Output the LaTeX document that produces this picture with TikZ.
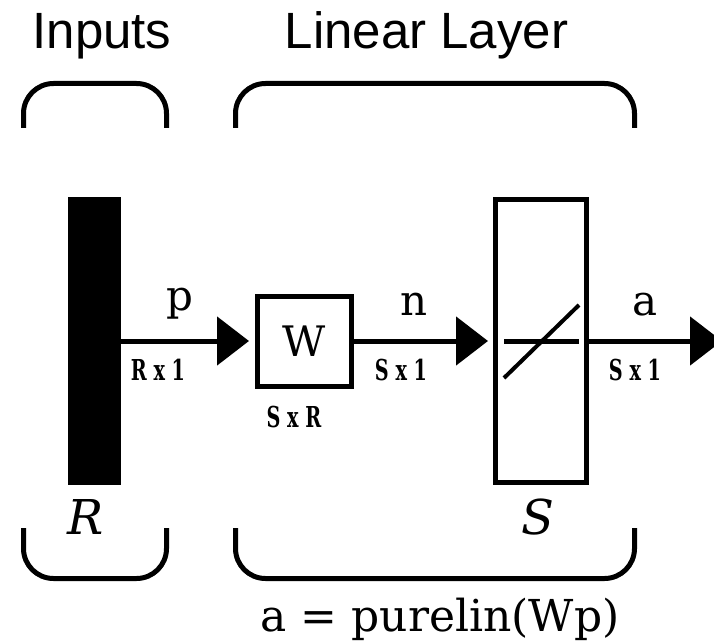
\documentclass[tikz,border=0pt]{standalone}
\usepackage{fontspec}
\setmainfont{DejaVu Serif}
\setsansfont{Liberation Sans}
\usepackage{tikz}
\usetikzlibrary{positioning,arrows.meta,calc}
\newcommand{\sizetext}[1]{\scalebox{0.8}[1.2]{#1}}

\begin{document}
\begin{tikzpicture}[
    x=1pt, y=-1pt,
    inbar/.style={
      fill=black,
      inner sep=0pt,
      outer sep=0pt,
      minimum width=53pt,
      minimum height=288pt
    },
    layerbox/.style={
      draw=black,
      fill=white,
      line width=5pt,
      inner sep=0pt
    },
    sigarrow/.style={
      -{Triangle[length=32pt,width=48pt]},
      line width=5pt
    },
    layerbrace/.style={
      line width=5pt,
      rounded corners=30pt
    },
    siglabel/.style={
      anchor=base,
      inner sep=0pt,
      font=\fontsize{42}{48}\selectfont
    },
    sizelabel/.style={
      anchor=base,
      inner sep=0pt,
      font=\fontsize{24}{28}\selectfont\bfseries
    },
    dimlabel/.style={
      anchor=base,
      inner sep=0pt,
      font=\fontsize{48}{56}\selectfont\itshape
    },
    titlelabel/.style={
      anchor=base,
      inner sep=0pt,
      font=\fontsize{51}{60}\selectfont\sffamily
    }
  ]
  \useasboundingbox (0,0) rectangle (714,644);

  % titles and brackets
  \node[titlelabel] (intitle) at (102,49) {Inputs};
  \node[titlelabel] (lintitle) at (426.5,49) {Linear Layer};
  \foreach \xa/\xb in {23.5/166.5, 235.5/634.5} {
    \draw[layerbrace] (\xa,128) -- (\xa,83.5) -- (\xb,83.5) -- (\xb,128);
    \draw[layerbrace] (\xa,528) -- (\xa,578.5) -- (\xb,578.5) -- (\xb,528);
  }

  % blocks
  \node[inbar] (pbar) at (94.5,341) {};
  \node[layerbox, minimum width=94pt, minimum height=90pt,
        font=\fontsize{42}{48}\selectfont] (wbox) at (304.5,341) {W};
  \node[layerbox, minimum width=91pt, minimum height=283pt] (fbox) at (541,341) {};
  \coordinate (aout) at (722,341);

  % linear transfer symbol
  \draw[line width=5pt] ([xshift=-37pt]fbox.center) -- ([xshift=38pt]fbox.center);
  \draw[line width=4pt] ([shift={(-37,37)}]fbox.center) -- ([shift={(38,-36)}]fbox.center);

  % signals
  \draw[sigarrow, shorten >=6pt] (pbar) -- (wbox);
  \draw[sigarrow, shorten >=5pt] (wbox) -- (fbox);
  \draw[sigarrow] (fbox) -- (aout);

  \node[siglabel] (plab) at (180,310) {p};
  \node[siglabel] (nlab) at (414,315) {n};
  \node[siglabel] (alab) at (645,315) {a};
  \node[sizelabel] (pdim) at (158,380) {\sizetext{R x 1}};
  \node[sizelabel] (wdim) at (294,427) {\sizetext{S x R}};
  \node[sizelabel] (ndim) at (401,380) {\sizetext{S x 1}};
  \node[sizelabel] (adim) at (635,380) {\sizetext{S x 1}};
  \node[dimlabel] (rlab) at (86,534) {R};
  \node[dimlabel] (slab) at (538,534) {S};

  \node[siglabel, font=\fontsize{44}{52}\selectfont] (eqn) at (440,631) {a = purelin(Wp)};
\end{tikzpicture}
\end{document}
